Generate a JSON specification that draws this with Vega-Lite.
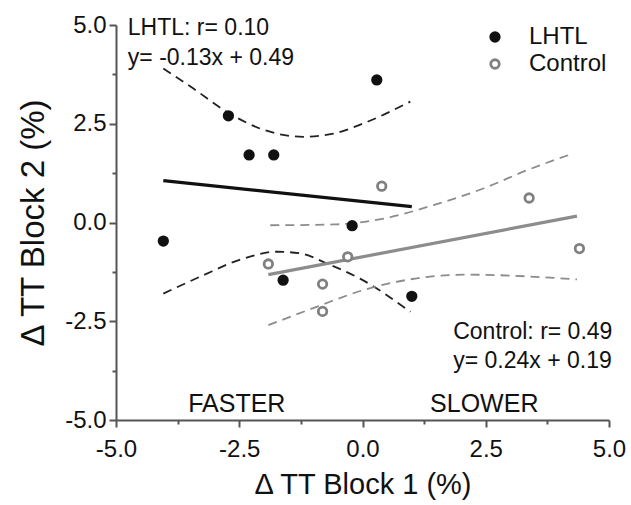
{
  "$schema": "https://vega.github.io/schema/vega-lite/v6.json",
  "width": 493,
  "height": 395,
  "autosize": {"type": "none"},
  "padding": {"left": 116, "top": 25, "right": 22, "bottom": 85},
  "background": "white",
  "config": {
    "view": {"stroke": null},
    "font": "Liberation Sans",
    "axis": {
      "grid": false,
      "labelFlush": false,
      "labelOverlap": false,
      "domainColor": "#555555",
      "domainWidth": 2,
      "tickColor": "#555555",
      "tickWidth": 2,
      "labelFont": "Liberation Sans",
      "labelFontSize": 24,
      "labelColor": "#111111",
      "titleFont": "Liberation Sans",
      "titleFontWeight": "normal",
      "titleColor": "#111111"
    }
  },
  "datasets": {
    "pts": [
      {"g": "LHTL", "x": -4.04, "y": -0.47},
      {"g": "LHTL", "x": -2.72, "y": 2.70},
      {"g": "LHTL", "x": -2.30, "y": 1.71},
      {"g": "LHTL", "x": -1.80, "y": 1.71},
      {"g": "LHTL", "x": 0.29, "y": 3.61},
      {"g": "LHTL", "x": -0.21, "y": -0.08},
      {"g": "LHTL", "x": -1.61, "y": -1.46},
      {"g": "LHTL", "x": 1.00, "y": -1.87},
      {"g": "Control", "x": -1.91, "y": -1.05},
      {"g": "Control", "x": -0.81, "y": -1.56},
      {"g": "Control", "x": -0.81, "y": -2.25},
      {"g": "Control", "x": -0.30, "y": -0.87},
      {"g": "Control", "x": 0.39, "y": 0.92},
      {"g": "Control", "x": 3.38, "y": 0.62},
      {"g": "Control", "x": 4.40, "y": -0.66}
    ],
    "fitL": [
      {"x": -4.04, "y": 1.06},
      {"x": 1.00, "y": 0.40}
    ],
    "fitC": [
      {"x": -1.91, "y": -1.32},
      {"x": 4.35, "y": 0.16}
    ],
    "ciL": [
      {"s": "upper", "x": -4.04, "y": 3.90},
      {"s": "upper", "x": -3.43, "y": 3.39},
      {"s": "upper", "x": -2.75, "y": 2.80},
      {"s": "upper", "x": -2.08, "y": 2.38},
      {"s": "upper", "x": -1.20, "y": 2.17},
      {"s": "upper", "x": -0.59, "y": 2.25},
      {"s": "upper", "x": 0.02, "y": 2.51},
      {"s": "upper", "x": 0.97, "y": 3.06},
      {"s": "lower", "x": -4.04, "y": -1.80},
      {"s": "lower", "x": -3.29, "y": -1.37},
      {"s": "lower", "x": -2.41, "y": -0.91},
      {"s": "lower", "x": -1.74, "y": -0.74},
      {"s": "lower", "x": -1.26, "y": -0.78},
      {"s": "lower", "x": -0.72, "y": -1.04},
      {"s": "lower", "x": -0.05, "y": -1.42},
      {"s": "lower", "x": 0.97, "y": -2.26}
    ],
    "ciC": [
      {"s": "upper", "x": -1.87, "y": -0.07},
      {"s": "upper", "x": -0.59, "y": -0.05},
      {"s": "upper", "x": 0.43, "y": 0.10},
      {"s": "upper", "x": 1.44, "y": 0.44},
      {"s": "upper", "x": 2.45, "y": 0.86},
      {"s": "upper", "x": 3.33, "y": 1.32},
      {"s": "upper", "x": 4.28, "y": 1.75},
      {"s": "lower", "x": -1.91, "y": -2.60},
      {"s": "lower", "x": -0.92, "y": -2.13},
      {"s": "lower", "x": 0.02, "y": -1.71},
      {"s": "lower", "x": 0.70, "y": -1.50},
      {"s": "lower", "x": 2.12, "y": -1.32},
      {"s": "lower", "x": 4.35, "y": -1.44}
    ],
    "notes": [
      {"t": "LHTL: r= 0.10", "x": -4.76, "y": 4.75},
      {"t": "y= -0.13x + 0.49", "x": -4.76, "y": 3.99},
      {"t": "Control: r= 0.49", "x": 1.84, "y": -2.95},
      {"t": "y= 0.24x + 0.19", "x": 1.84, "y": -3.69}
    ],
    "zones": [
      {"t": "FASTER", "x": -2.55, "y": -4.81},
      {"t": "SLOWER", "x": 2.47, "y": -4.81}
    ]
  },
  "encoding": {
    "x": {
      "field": "x",
      "type": "quantitative",
      "scale": {"domain": [-5, 5], "nice": false, "zero": false},
      "axis": {
        "title": "Δ TT Block 1 (%)",
        "titleFontSize": 29,
        "titlePadding": 9,
        "format": ".1f",
        "values": [-5, -3.75, -2.5, -1.25, 0, 1.25, 2.5, 3.75, 5],
        "labelExpr": "abs(datum.value % 2.5) < 0.001 ? replace(datum.label, '\u2212', '-') : ''",
        "tickSize": {"condition": {"test": "abs(datum.value % 2.5) < 0.001", "value": 7}, "value": 4},
        "labelPadding": 10
      }
    },
    "y": {
      "field": "y",
      "type": "quantitative",
      "scale": {"domain": [-5, 5], "nice": false, "zero": false},
      "axis": {
        "title": "Δ TT Block 2 (%)",
        "titleFontSize": 33,
        "titlePadding": 14,
        "format": ".1f",
        "values": [-5, -3.75, -2.5, -1.25, 0, 1.25, 2.5, 3.75, 5],
        "labelExpr": "abs(datum.value % 2.5) < 0.001 ? replace(datum.label, '\u2212', '-') : ''",
        "tickSize": {"condition": {"test": "abs(datum.value % 2.5) < 0.001", "value": 7}, "value": 4},
        "labelPadding": 3
      }
    }
  },
  "layer": [
    {
      "data": {"name": "ciL"},
      "mark": {"type": "line", "color": "#222222", "strokeWidth": 1.8, "strokeDash": [9, 6], "interpolate": "monotone"},
      "encoding": {"detail": {"field": "s"}}
    },
    {
      "data": {"name": "ciC"},
      "mark": {"type": "line", "color": "#8c8c8c", "strokeWidth": 1.8, "strokeDash": [9, 6], "interpolate": "monotone"},
      "encoding": {"detail": {"field": "s"}}
    },
    {
      "data": {"name": "fitL"},
      "mark": {"type": "line", "color": "#111111", "strokeWidth": 3.2},
      "encoding": {}
    },
    {
      "data": {"name": "fitC"},
      "mark": {"type": "line", "color": "#8c8c8c", "strokeWidth": 3.2},
      "encoding": {}
    },
    {
      "data": {"values": [{}]},
      "mark": {"type": "rule", "color": "#222222", "strokeWidth": 2, "strokeDash": [2, 3]},
      "encoding": {"x": {"datum": 0, "type": "quantitative"}, "y": null}
    },
    {
      "data": {"values": [{}]},
      "mark": {"type": "rule", "color": "#222222", "strokeWidth": 2, "strokeDash": [2, 3]},
      "encoding": {"y": {"datum": 0, "type": "quantitative"}, "x": null}
    },
    {
      "data": {"name": "pts"},
      "mark": {"type": "point", "shape": "circle", "size": 72, "strokeWidth": 2.8, "opacity": 1},
      "encoding": {
        "color": {
          "field": "g",
          "type": "nominal",
          "scale": {"domain": ["LHTL", "Control"], "range": ["#111111", "#808080"]},
          "legend": {
            "title": null,
            "orient": "none",
            "legendX": 367,
            "legendY": 0,
            "labelFontSize": 24,
            "labelFont": "Liberation Sans",
            "labelColor": "#111111",
            "labelOffset": 22,
            "rowPadding": 3,
            "symbolSize": 72,
            "symbolStrokeWidth": 2.8
          }
        },
        "fill": {
          "field": "g",
          "type": "nominal",
          "scale": {"domain": ["LHTL", "Control"], "range": ["#111111", "#ffffff"]},
          "legend": {
            "title": null,
            "orient": "none",
            "legendX": 367,
            "legendY": 0,
            "labelFontSize": 24,
            "labelFont": "Liberation Sans",
            "labelColor": "#111111",
            "labelOffset": 22,
            "rowPadding": 3,
            "symbolSize": 72,
            "symbolStrokeWidth": 2.8
          }
        }
      }
    },
    {
      "data": {"name": "notes"},
      "mark": {"type": "text", "align": "left", "baseline": "alphabetic", "fontSize": 23, "font": "Liberation Sans", "color": "#111111"},
      "encoding": {"text": {"field": "t"}}
    },
    {
      "data": {"name": "zones"},
      "mark": {"type": "text", "align": "center", "baseline": "alphabetic", "fontSize": 25, "font": "Liberation Sans", "color": "#111111"},
      "encoding": {"text": {"field": "t"}}
    }
  ]
}
